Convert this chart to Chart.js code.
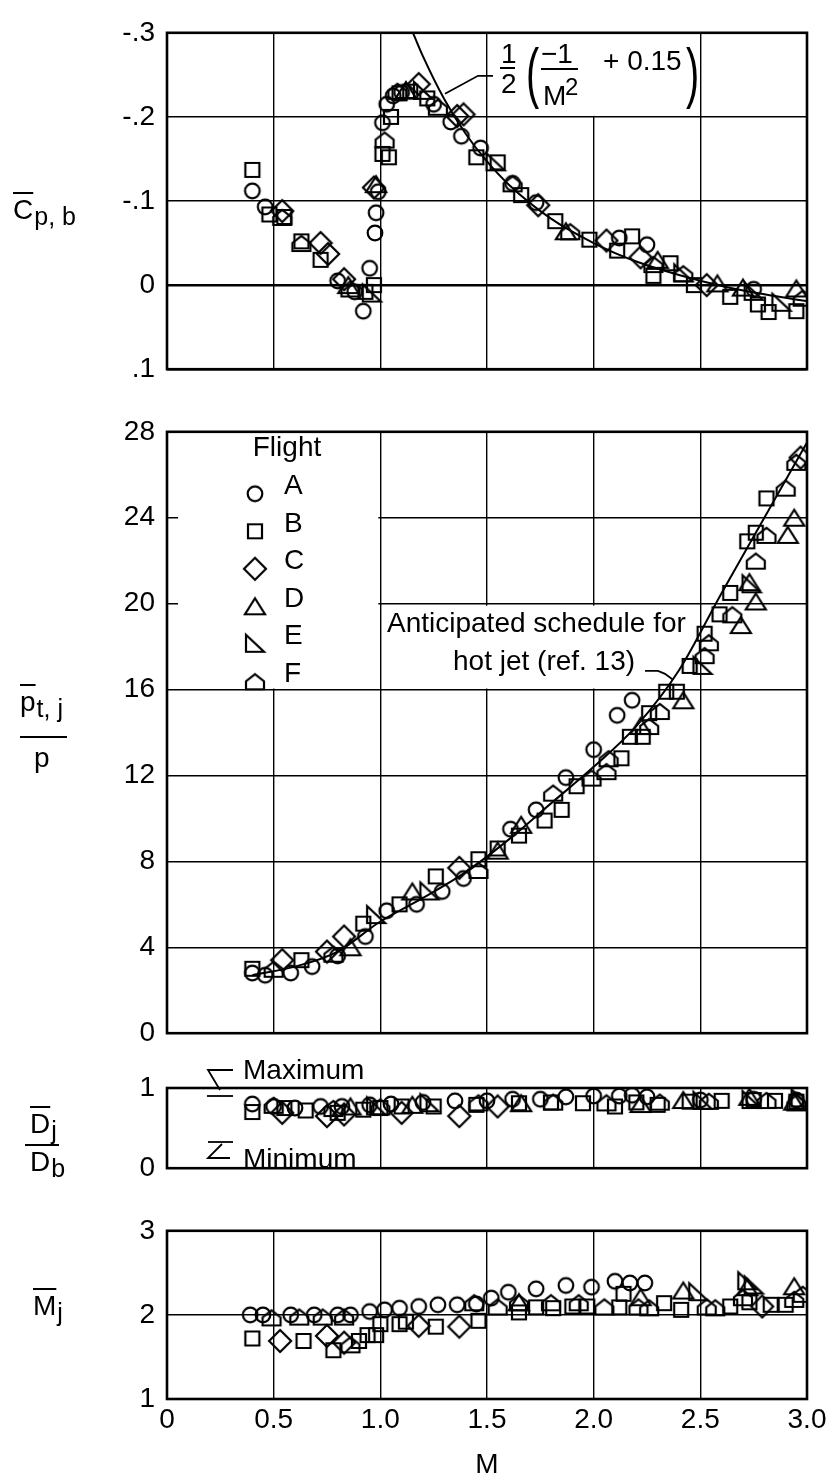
<!DOCTYPE html>
<html>
<head>
<meta charset="utf-8">
<title>Base pressure, jet pressure ratio, nozzle diameter and jet Mach number against M</title>
<script src="https://cdn.jsdelivr.net/npm/chart.js@4.4.1/dist/chart.umd.min.js"></script>
<style>
    body { margin: 0; background: #fff; }
    #page { position: relative; width: 828px; height: 1482px; overflow: hidden; background: #fff;
            font-family: "Liberation Sans", Arial, sans-serif; color: #000; }
    #page canvas { position: absolute; left: 0; }
    .txt { position: absolute; white-space: nowrap; line-height: 1; }
    .bar { position: absolute; height: 0; border-top: 2px solid #000; }
    .ov { text-decoration: overline; }
    .sub { position: relative; top: 6px; font-size: 25px; margin-left: 1px; }
    .paren { transform: scaleX(0.6); transform-origin: left center; }
</style>
</head>
<body>
<div id="page">
    <canvas id="cpChart" width="860" height="394" style="top:4px"></canvas>
    <canvas id="ptChart" width="860" height="659" style="top:403px"></canvas>
    <canvas id="djChart" width="860" height="139" style="top:1058px"></canvas>
    <canvas id="mjChart" width="860" height="280" style="top:1202px"></canvas>
</div>
<script>
// tick labels
const mTickLabels = ['0', '0.5', '1.0', '1.5', '2.0', '2.5', '3.0'];
const cpTickLabels = ['-.3', '-.2', '-.1', '0', '.1'];
const ptTickLabels = ['0', '4', '8', '12', '16', '20', '24', '28'];
const djTickLabels = ['0', '1'];
const mjTickLabels = ['1', '2', '3'];

const flights = ['A', 'B', 'C', 'D', 'E', 'F'];

// base pressure coefficient, Cp,b
const cpM_A = [0.40, 0.46, 0.80, 0.88, 0.92, 0.95, 0.975, 0.98, 0.99, 1.01, 1.03, 1.06, 1.10, 1.25, 1.33, 1.38, 1.47, 1.62, 1.73, 2.12, 2.25, 2.75];
const cpA = [-0.112, -0.093, -0.005, 0.008, 0.031, -0.020, -0.062, -0.086, -0.111, -0.193, -0.215, -0.225, -0.229, -0.215, -0.194, -0.177, -0.163, -0.121, -0.098, -0.056, -0.048, 0.005];
const cpM_B = [0.40, 0.48, 0.55, 0.63, 0.72, 0.93, 0.97, 1.01, 1.04, 1.05, 1.09, 1.14, 1.22, 1.45, 1.55, 1.66, 1.82, 1.98, 2.11, 2.18, 2.28, 2.36, 2.47, 2.64, 2.77, 2.82, 2.95];
const cpB = [-0.137, -0.084, -0.081, -0.052, -0.030, 0.008, 0.000, -0.156, -0.152, -0.200, -0.228, -0.230, -0.222, -0.152, -0.146, -0.107, -0.076, -0.054, -0.041, -0.058, -0.011, -0.026, 0.000, 0.014, 0.023, 0.032, 0.031];
const cpM_C = [0.54, 0.72, 0.755, 0.83, 0.97, 1.18, 1.36, 1.39, 1.74, 2.06, 2.22, 2.53];
const cpC = [-0.088, -0.050, -0.037, -0.007, -0.116, -0.239, -0.201, -0.203, -0.095, -0.053, -0.033, 0.000];
const cpM_D = [0.85, 0.98, 1.12, 1.87, 2.30, 2.58, 2.70, 2.95];
const cpD = [0.000, -0.120, -0.232, -0.064, -0.030, -0.002, 0.003, 0.004];
const cpM_E = [0.96, 1.20, 1.54, 2.42, 2.75, 2.88];
const cpE = [0.010, -0.231, -0.146, -0.014, 0.008, 0.021];
const cpM_F = [0.54, 0.63, 0.86, 1.02, 1.08, 1.27, 1.62, 1.89, 2.28, 2.42, 2.98];
const cpF = [-0.081, -0.050, 0.004, -0.173, -0.231, -0.212, -0.121, -0.064, -0.025, -0.014, 0.015];
// curve 1/2(-1/M^2 + 0.15)
const curveM = [1.153, 1.2, 1.3, 1.4, 1.5, 1.6, 1.8, 2.0, 2.2, 2.4, 2.6, 2.8, 3.0];
const curveCp = [-0.300, -0.272, -0.221, -0.180, -0.147, -0.120, -0.079, -0.050, -0.028, -0.012, 0.001, 0.011, 0.019];

// jet total pressure ratio, pt,j/p
const ptM_A = [0.40, 0.46, 0.58, 0.68, 0.80, 0.93, 1.03, 1.17, 1.29, 1.39, 1.61, 1.73, 1.87, 2.00, 2.11, 2.18];
const ptA = [2.8, 2.7, 2.8, 3.1, 3.6, 4.5, 5.7, 6.0, 6.6, 7.2, 9.5, 10.4, 11.9, 13.2, 14.8, 15.5];
const ptM_B = [0.40, 0.63, 0.92, 1.09, 1.26, 1.46, 1.55, 1.65, 1.77, 1.85, 1.92, 2.13, 2.17, 2.23, 2.26, 2.34, 2.39, 2.45, 2.52, 2.59, 2.64, 2.72, 2.76, 2.81];
const ptB = [3.0, 3.4, 5.1, 6.0, 7.3, 8.1, 8.6, 9.2, 9.9, 10.4, 11.5, 12.8, 13.8, 13.8, 14.9, 15.9, 15.9, 17.1, 18.6, 19.5, 20.5, 22.9, 23.3, 24.9];
const ptM_C = [0.54, 0.75, 0.83, 1.37, 2.97];
const ptC = [3.4, 3.8, 4.5, 7.7, 26.8];
const ptM_D = [0.86, 1.15, 1.55, 1.66, 2.22, 2.42, 2.69, 2.73, 2.76, 2.91, 2.94];
const ptD = [4.0, 6.6, 8.5, 9.7, 14.3, 15.5, 19.0, 21.0, 20.1, 23.2, 24.0];
const ptM_E = [0.98, 1.23, 2.51, 2.74];
const ptE = [5.5, 6.6, 17.1, 20.9];
const ptM_F = [0.50, 0.78, 1.46, 1.81, 1.99, 2.06, 2.07, 2.26, 2.31, 2.52, 2.54, 2.65, 2.76, 2.81, 2.90, 2.95];
const ptF = [3.0, 3.7, 7.6, 11.2, 11.9, 12.2, 12.8, 14.3, 15.0, 17.6, 18.2, 19.5, 22.0, 23.2, 25.4, 26.6];
// anticipated schedule for hot jet (ref. 13)
const schedM = [0.4, 0.6, 0.8, 1.0, 1.2, 1.4, 1.6, 1.8, 2.0, 2.2, 2.4, 2.6, 2.8, 3.0];
const schedPt = [2.7, 3.1, 3.8, 5.2, 6.3, 7.5, 9.0, 10.7, 12.4, 14.3, 16.9, 20.5, 24.0, 27.5];

// nozzle exit diameter ratio, Dj/Db
const djM_A = [0.40, 0.50, 0.60, 0.72, 0.82, 0.95, 1.05, 1.20, 1.35, 1.50, 1.62, 1.75, 1.87, 2.00, 2.12, 2.18, 2.25, 2.50, 2.75, 2.95];
const djA = [0.80, 0.77, 0.75, 0.77, 0.77, 0.79, 0.80, 0.82, 0.84, 0.84, 0.86, 0.86, 0.89, 0.90, 0.90, 0.91, 0.89, 0.85, 0.86, 0.85];
const djM_B = [0.40, 0.55, 0.65, 0.80, 0.92, 1.00, 1.10, 1.25, 1.45, 1.65, 1.80, 1.95, 2.10, 2.20, 2.30, 2.45, 2.60, 2.75, 2.85, 2.95];
const djB = [0.70, 0.75, 0.72, 0.69, 0.73, 0.75, 0.77, 0.77, 0.79, 0.81, 0.82, 0.81, 0.77, 0.82, 0.79, 0.83, 0.84, 0.85, 0.84, 0.83];
const djM_C = [0.54, 0.75, 0.83, 1.10, 1.37, 1.55];
const djC = [0.69, 0.65, 0.67, 0.69, 0.65, 0.77];
const djM_D = [0.86, 1.15, 1.66, 2.22, 2.42, 2.73, 2.94];
const djD = [0.77, 0.79, 0.81, 0.80, 0.85, 0.89, 0.83];
const djM_E = [0.98, 1.23, 2.51, 2.74, 2.97];
const djE = [0.77, 0.81, 0.84, 0.85, 0.87];
const djM_F = [0.50, 0.78, 1.00, 1.46, 1.81, 2.06, 2.31, 2.54, 2.81, 2.95];
const djF = [0.79, 0.75, 0.77, 0.82, 0.83, 0.82, 0.83, 0.84, 0.85, 0.82];

// jet Mach number, Mj
const mjM_A = [0.39, 0.45, 0.58, 0.69, 0.80, 0.86, 0.95, 1.02, 1.09, 1.18, 1.27, 1.36, 1.45, 1.52, 1.60, 1.73, 1.87, 1.99, 2.10, 2.17, 2.24];
const mjA = [2.00, 2.00, 2.00, 2.00, 2.00, 2.00, 2.04, 2.06, 2.08, 2.10, 2.12, 2.12, 2.13, 2.20, 2.27, 2.31, 2.35, 2.33, 2.40, 2.38, 2.38];
const mjM_B = [0.40, 0.64, 0.78, 0.90, 0.94, 0.98, 1.00, 1.09, 1.12, 1.26, 1.46, 1.65, 1.73, 1.81, 1.90, 1.97, 2.12, 2.14, 2.33, 2.41, 2.64, 2.73, 2.83, 2.90];
const mjB = [1.72, 1.69, 1.58, 1.69, 1.76, 1.76, 1.89, 1.89, 1.92, 1.86, 1.93, 2.03, 2.09, 2.08, 2.10, 2.10, 2.09, 2.25, 2.14, 2.06, 2.10, 2.15, 2.12, 2.12];
const mjM_C = [0.53, 0.75, 0.83, 1.18, 1.37, 2.79];
const mjC = [1.69, 1.75, 1.67, 1.87, 1.86, 2.10];
const mjM_D = [1.65, 2.22, 2.42, 2.72, 2.94];
const mjD = [2.15, 2.21, 2.29, 2.33, 2.34];
const mjM_E = [2.49, 2.72, 2.75];
const mjE = [2.27, 2.40, 2.35];
const mjM_F = [0.49, 0.62, 0.73, 0.83, 0.86, 1.44, 1.55, 1.65, 1.80, 1.93, 2.05, 2.21, 2.26, 2.53, 2.57, 2.70, 2.94, 2.98];
const mjF = [1.97, 1.98, 1.98, 1.98, 1.65, 2.15, 2.10, 2.15, 2.15, 2.15, 2.10, 2.10, 2.09, 2.10, 2.09, 2.21, 2.19, 2.25];

Chart.defaults.font.family = '"Liberation Sans", Arial, sans-serif';
Chart.defaults.font.size = 28;
Chart.defaults.color = '#000';

// open symbols, one per flight
function makeMarker(f) {
    const c = document.createElement('canvas');
    c.width = 26;
    c.height = 26;
    const g = c.getContext('2d');
    g.strokeStyle = '#000';
    g.lineWidth = 2.2;
    g.lineJoin = 'miter';
    g.beginPath();
    if (f === 'A') {
        g.arc(13, 13, 7.3, 0, Math.PI * 2);
    } else if (f === 'B') {
        g.rect(6, 6, 14, 14);
    } else if (f === 'C') {
        g.moveTo(13, 2); g.lineTo(24, 13); g.lineTo(13, 24); g.lineTo(2, 13); g.closePath();
    } else if (f === 'D') {
        g.moveTo(13, 5); g.lineTo(23, 21); g.lineTo(3, 21); g.closePath();
    } else if (f === 'E') {
        g.moveTo(4, 4); g.lineTo(4, 21); g.lineTo(22, 21); g.closePath();
    } else {
        g.moveTo(4, 21); g.lineTo(22, 21); g.lineTo(22, 13); g.lineTo(13, 6); g.lineTo(4, 13); g.closePath();
    }
    g.stroke();
    return c;
}
const markers = {};
flights.forEach(f => { markers[f] = makeMarker(f); });

function pts(xs, ys) {
    return xs.map((x, i) => ({ x: x, y: ys[i] }));
}

function flightSets(groups) {
    return flights.map((f, i) => ({
        label: 'Flight ' + f,
        data: pts(groups[i][0], groups[i][1]),
        pointStyle: markers[f],
        pointRadius: 9,
        showLine: false
    }));
}

function curveSet(label, xs, ys) {
    return {
        label: label,
        data: pts(xs, ys),
        showLine: true,
        pointRadius: 0,
        borderColor: '#000',
        borderWidth: 2,
        cubicInterpolationMode: 'monotone'
    };
}

function xScale(showTicks) {
    return {
        type: 'linear', min: 0, max: 3,
        ticks: { display: showTicks, stepSize: 0.5, padding: 4, maxRotation: 0, autoSkip: false,
                 callback: v => mTickLabels[Math.round(v / 0.5)] },
        grid: { color: '#000', lineWidth: 1.4, drawTicks: false },
        border: { display: false },
        title: { display: showTicks, text: 'M', font: { size: 28 }, padding: 0 },
        afterFit: s => { s.height = showTicks ? 83 : 0; }
    };
}

// labels looked up by value, so a reversed axis still gets the right text
function yScale(min, max, step, labels, gridOn, reverse) {
    return {
        type: 'linear', min: min, max: max, reverse: !!reverse,
        ticks: { stepSize: step, padding: 12, autoSkip: false,
                 callback: v => labels[Math.round((v - min) / step)] },
        grid: { display: gridOn, color: '#000', drawTicks: false,
                lineWidth: c => (c.tick && Math.abs(c.tick.value) < 1e-9 && reverse) ? 2.6 : 1.4 },
        border: { display: false },
        afterFit: s => { s.width = 167; }
    };
}

function whiteBox(ctx, x0, y0, x1, y1) {
    ctx.fillStyle = '#fff';
    ctx.fillRect(x0, y0, x1 - x0, y1 - y0);
}

function polyline(ctx, a, p) {
    ctx.beginPath();
    ctx.moveTo(a.left + p[0][0], a.top + p[0][1]);
    for (let i = 1; i < p.length; i++) ctx.lineTo(a.left + p[i][0], a.top + p[i][1]);
    ctx.stroke();
}

// white-out areas behind labels (drawn over the grid, under the data)
const underlays = {
    cpChart(ch, ctx) {
        const a = ch.chartArea, x = ch.scales.x, y = ch.scales.y;
        whiteBox(ctx, x.getPixelForValue(1.5) + 2, a.top + 1, x.getPixelForValue(2.5) - 2, y.getPixelForValue(-0.2) - 1);
    },
    ptChart(ch, ctx) {
        const a = ch.chartArea, x = ch.scales.x, y = ch.scales.y;
        whiteBox(ctx, a.left + 11, a.top + 1, x.getPixelForValue(1.0) - 2, y.getPixelForValue(16) - 1);
        whiteBox(ctx, x.getPixelForValue(1.0) + 2, y.getPixelForValue(20) + 2, x.getPixelForValue(2.5) - 3, y.getPixelForValue(16) - 1);
    },
    djChart(ch, ctx) {
        const a = ch.chartArea, x = ch.scales.x;
        whiteBox(ctx, a.left + 2, a.top + 1, x.getPixelForValue(1.0) - 2, a.bottom - 1);
    }
};

// leaders, legend symbols, max/min marks
const overlays = {
    cpChart(ch, ctx) {
        polyline(ctx, ch.chartArea, [[278, 61], [311, 43], [326, 43]]);
    },
    ptChart(ch, ctx) {
        const a = ch.chartArea;
        polyline(ctx, a, [[478, 239], [491, 239], [498, 242], [506, 248]]);
        flights.forEach((f, i) => {
            const m = markers[f];
            ctx.drawImage(m, a.left + 88 - m.width / 2, a.top + 62 + i * 37.5 - m.height / 2);
        });
    },
    djChart(ch, ctx) {
        const a = ch.chartArea;
        polyline(ctx, a, [[40, 8], [66, 8]]);
        polyline(ctx, a, [[53, 2], [41, -18], [66, -18]]);
        polyline(ctx, a, [[41, 54], [66, 54]]);
        polyline(ctx, a, [[55, 56], [41, 70], [63, 70]]);
    }
};

const panelDeco = {
    id: 'panelDeco',
    beforeDatasetsDraw(chart) {
        const ctx = chart.ctx, a = chart.chartArea;
        ctx.save();
        if (underlays[chart.canvas.id]) underlays[chart.canvas.id](chart, ctx);
        ctx.strokeStyle = '#000';
        ctx.lineWidth = 2.6;
        ctx.strokeRect(a.left, a.top, a.right - a.left, a.bottom - a.top);
        ctx.restore();
    },
    afterDatasetsDraw(chart) {
        const ctx = chart.ctx;
        ctx.save();
        ctx.strokeStyle = '#000';
        ctx.lineWidth = 1.8;
        if (overlays[chart.canvas.id]) overlays[chart.canvas.id](chart, ctx);
        ctx.restore();
    }
};

function makePanel(id, datasets, yOpts, padTop, bottomAxis) {
    return new Chart(document.getElementById(id), {
        type: 'scatter',
        data: { datasets: datasets },
        options: {
            responsive: false,
            animation: false,
            events: [],
            layout: { padding: { top: padTop, bottom: bottomAxis ? 0 : 20, left: 0, right: 53 } },
            plugins: { legend: { display: false }, tooltip: { enabled: false } },
            scales: { x: xScale(bottomAxis), y: yOpts }
        },
        plugins: [panelDeco]
    });
}

makePanel('cpChart',
    flightSets([[cpM_A, cpA], [cpM_B, cpB], [cpM_C, cpC], [cpM_D, cpD], [cpM_E, cpE], [cpM_F, cpF]])
        .concat([curveSet('1/2(-1/M^2 + 0.15)', curveM, curveCp)]),
    yScale(-0.3, 0.1, 0.1, cpTickLabels, true, true), 20, false);

makePanel('ptChart',
    flightSets([[ptM_A, ptA], [ptM_B, ptB], [ptM_C, ptC], [ptM_D, ptD], [ptM_E, ptE], [ptM_F, ptF]])
        .concat([curveSet('Anticipated schedule for hot jet (ref. 13)', schedM, schedPt)]),
    yScale(0, 28, 4, ptTickLabels, true, false), 20, false);

makePanel('djChart',
    flightSets([[djM_A, djA], [djM_B, djB], [djM_C, djC], [djM_D, djD], [djM_E, djE], [djM_F, djF]]),
    yScale(0, 1, 1, djTickLabels, false, false), 30, false);

makePanel('mjChart',
    flightSets([[mjM_A, mjA], [mjM_B, mjB], [mjM_C, mjC], [mjM_D, mjD], [mjM_E, mjE], [mjM_F, mjF]]),
    yScale(1, 3, 1, mjTickLabels, true, false), 20, true);

// text placed by cap-height centre
const page = document.getElementById('page');
function addText(html, left, cy, size, cls) {
    const d = document.createElement('div');
    d.className = 'txt' + (cls ? ' ' + cls : '');
    d.innerHTML = html;
    d.style.fontSize = size + 'px';
    d.style.left = left + 'px';
    d.style.top = (cy - 0.4885 * size) + 'px';
    page.appendChild(d);
    return d;
}
function addBar(left, top, width) {
    const d = document.createElement('div');
    d.className = 'bar';
    d.style.left = left + 'px';
    d.style.top = top + 'px';
    d.style.width = width + 'px';
    page.appendChild(d);
}

// axis titles
addText('<span class="ov">C</span><span class="sub">p, b</span>', 13, 210, 28);
addText('<span class="ov">p</span><span class="sub">t, j</span>', 20, 702, 28);
addBar(20, 736, 47);
addText('p', 34, 758, 28);
addText('<span class="ov">D</span><span class="sub">j</span>', 30, 1124, 28);
addBar(25, 1144, 34);
addText('D<span class="sub">b</span>', 30, 1162, 28);
addText('<span class="ov">M</span><span class="sub">j</span>', 33, 1306, 28);

// formula label
addText('1', 501, 54, 28);
addBar(500, 67, 15);
addText('2', 501, 84, 28);
addText('(', 526, 71, 66, 'paren');
addText('\u22121', 541, 54, 28);
addBar(541, 68, 37);
addText('M', 543, 96, 28);
addText('2', 565, 87, 24);
addText('+ 0.15', 603, 61, 28);
addText(')', 686, 71, 66, 'paren');

// legend
const fl = addText('Flight', 287, 447, 28);
fl.style.transform = 'translateX(-50%)';
flights.forEach((f, i) => addText(f, 284, 485 + i * 37.5, 28));

// schedule label
addText('Anticipated schedule for', 387, 623, 28);
addText('hot jet (ref. 13)', 453, 661, 28);

// diameter marks
addText('Maximum', 243, 1070, 28);
addText('Minimum', 243, 1159, 28);
</script>
</body>
</html>
